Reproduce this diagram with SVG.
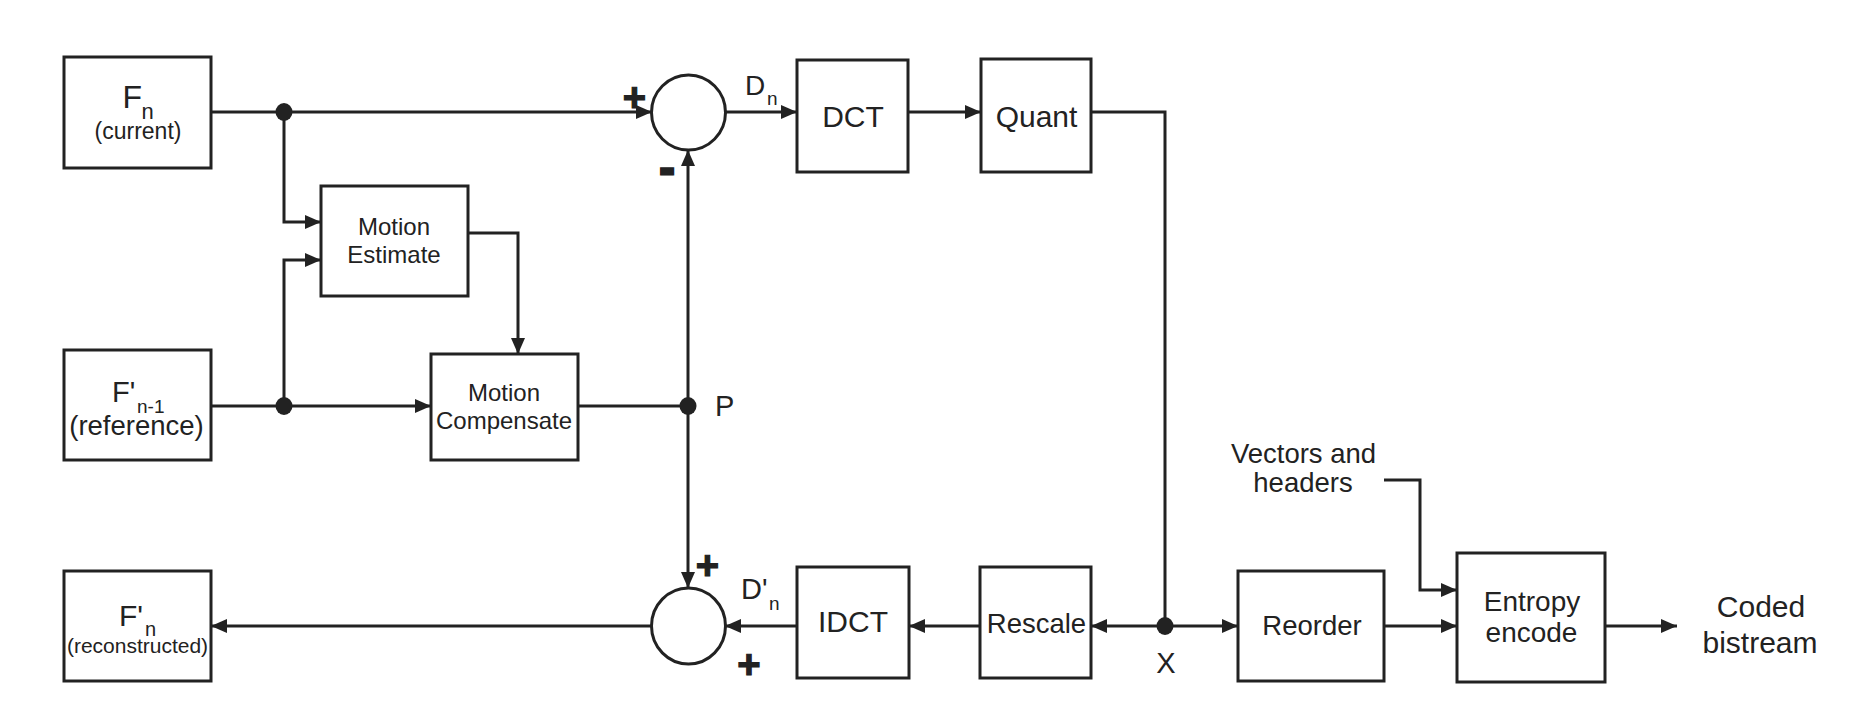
<svg xmlns="http://www.w3.org/2000/svg" width="1856" height="727" viewBox="0 0 1856 727">
<defs>
<marker id="ah" markerUnits="userSpaceOnUse" markerWidth="16" markerHeight="14" refX="16" refY="7" orient="auto">
<path d="M0,0 L16,7 L0,14 z" fill="#222"/>
</marker>
<style>
.box{fill:#fff;stroke:#222;stroke-width:3}
.ln{fill:none;stroke:#222;stroke-width:3}
.dot{fill:#222}
text{font-family:"Liberation Sans",Arial,sans-serif;fill:#222}
.c{text-anchor:middle}
.pm{font-weight:bold;font-size:40px;text-anchor:middle;stroke:#222;stroke-width:1.2}
.mn{font-weight:bold;font-size:44px;text-anchor:middle;stroke:#222;stroke-width:3}
</style>
</defs>
<rect width="1856" height="727" fill="#fff"/>
<g id="connectors">
<path class="ln" d="M211,112 H652" marker-end="url(#ah)"/>
<path class="ln" d="M284,112 V222 H321" marker-end="url(#ah)"/>
<path class="ln" d="M284,406 V260 H321" marker-end="url(#ah)"/>
<path class="ln" d="M468,233 H518 V354" marker-end="url(#ah)"/>
<path class="ln" d="M211,406 H431" marker-end="url(#ah)"/>
<path class="ln" d="M578,406 H688"/>
<path class="ln" d="M688,406 V150" marker-end="url(#ah)"/>
<path class="ln" d="M688,406 V588" marker-end="url(#ah)"/>
<path class="ln" d="M725,112 H797" marker-end="url(#ah)"/>
<path class="ln" d="M908,112 H981" marker-end="url(#ah)"/>
<path class="ln" d="M1091,112 H1165 V626"/>
<path class="ln" d="M1165,626 H1091" marker-end="url(#ah)"/>
<path class="ln" d="M1165,626 H1238" marker-end="url(#ah)"/>
<path class="ln" d="M981,626 H909" marker-end="url(#ah)"/>
<path class="ln" d="M797,626 H725" marker-end="url(#ah)"/>
<path class="ln" d="M651,626 H211" marker-end="url(#ah)"/>
<path class="ln" d="M1384,626 H1457" marker-end="url(#ah)"/>
<path class="ln" d="M1384,480 H1420 V590 H1457" marker-end="url(#ah)"/>
<path class="ln" d="M1605,626 H1677" marker-end="url(#ah)"/>
<ellipse class="dot" cx="284" cy="112" rx="8.5" ry="9"/>
<ellipse class="dot" cx="284" cy="406" rx="8.5" ry="9"/>
<ellipse class="dot" cx="688" cy="406" rx="8.5" ry="9"/>
<ellipse class="dot" cx="1165" cy="626" rx="8.5" ry="9"/>
<text x="715" y="416" font-size="29">P</text>
<text x="1166" y="673" font-size="29" class="c">X</text>
<text x="745" y="95" font-size="28">D</text>
<text x="767" y="105" font-size="19">n</text>
<text x="741" y="599" font-size="29">D'</text>
<text x="769" y="610" font-size="19">n</text>
<text x="634.5" y="111" class="pm">+</text>
<text x="667" y="183" class="mn">-</text>
<text x="707.5" y="579" class="pm">+</text>
<text x="749" y="678" class="pm">+</text>
<text x="1303.5" y="463" font-size="27.5" class="c">Vectors and</text>
<text x="1303" y="492" font-size="27.5" class="c">headers</text>
<text x="1761" y="617" font-size="30" class="c">Coded</text>
<text x="1760" y="653" font-size="30" class="c">bistream</text>
</g>
<g id="fn">
<rect class="box" x="64" y="57" width="147" height="111"/>
<text x="122.5" y="108" font-size="32">F</text>
<text x="141.5" y="119" font-size="22">n</text>
<text x="138" y="139" font-size="23" class="c">(current)</text>
</g>
<g id="fn1">
<rect class="box" x="64" y="350" width="147" height="110"/>
<text x="112" y="402" font-size="29">F'</text>
<text x="137" y="413" font-size="19">n-1</text>
<text x="136.5" y="435" font-size="27.5" class="c">(reference)</text>
</g>
<g id="fnrec">
<rect class="box" x="64" y="571" width="147" height="110"/>
<text x="119" y="626" font-size="30">F'</text>
<text x="145" y="636" font-size="20">n</text>
<text x="137.5" y="653" font-size="21" class="c">(reconstructed)</text>
</g>
<g id="me">
<rect class="box" x="321" y="186" width="147" height="110"/>
<text x="394" y="235" font-size="24" class="c">Motion</text>
<text x="394" y="263" font-size="24" class="c">Estimate</text>
</g>
<g id="mc">
<rect class="box" x="431" y="354" width="147" height="106"/>
<text x="504" y="401" font-size="24" class="c">Motion</text>
<text x="504" y="429" font-size="24" class="c">Compensate</text>
</g>
<g id="sub">
<ellipse class="box" cx="688.5" cy="112.5" rx="37" ry="37.5"/>
</g>
<g id="add">
<ellipse class="box" cx="688.5" cy="626" rx="37" ry="38"/>
</g>
<g id="dct">
<rect class="box" x="797" y="60" width="111" height="112"/>
<text x="853" y="127" font-size="30" class="c">DCT</text>
</g>
<g id="quant">
<rect class="box" x="981" y="59" width="110" height="113"/>
<text x="1036.5" y="127" font-size="30" class="c">Quant</text>
</g>
<g id="idct">
<rect class="box" x="797" y="567" width="112" height="111"/>
<text x="853" y="632" font-size="30" class="c">IDCT</text>
</g>
<g id="rescale">
<rect class="box" x="980" y="567" width="111" height="111"/>
<text x="1036.5" y="633" font-size="27.5" class="c">Rescale</text>
</g>
<g id="reorder">
<rect class="box" x="1238" y="571" width="146" height="110"/>
<text x="1312" y="635" font-size="27.5" class="c">Reorder</text>
</g>
<g id="entropy">
<rect class="box" x="1457" y="553" width="148" height="129"/>
<text x="1532" y="611" font-size="28" class="c">Entropy</text>
<text x="1531.5" y="642" font-size="28" class="c">encode</text>
</g>
</svg>
